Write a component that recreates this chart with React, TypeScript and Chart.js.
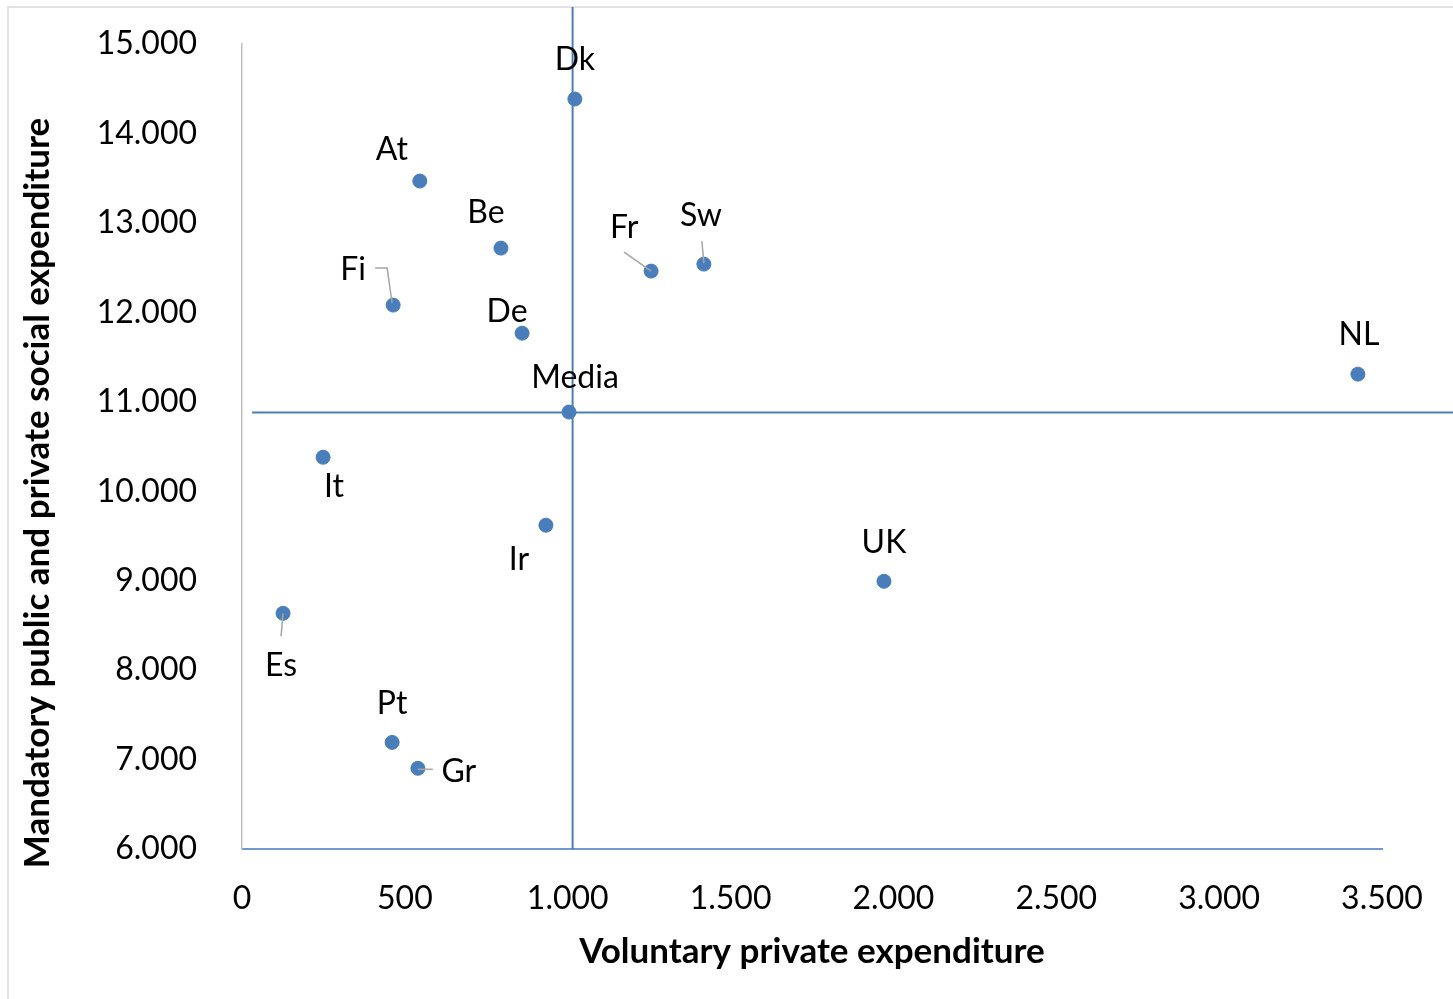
import React, { useEffect, useRef } from 'react';
import { Chart, registerables } from 'chart.js';

Chart.register(...registerables);

// Country codes and their expenditure per capita
const countries = ['Dk', 'At', 'Be', 'Fi', 'De', 'Fr', 'Sw', 'NL', 'Media', 'It', 'Ir', 'UK', 'Es', 'Pt', 'Gr'];
const voluntaryPrivate = [1022, 546, 795, 464, 860, 1256, 1418, 3426, 1004, 249, 933, 1971, 126, 461, 540];
const mandatorySocial = [14385, 13468, 12718, 12081, 11767, 12461, 12539, 11309, 10885, 10380, 9620, 8993, 8635, 7192, 6902];

// Reference lines through the average
const meanVoluntary = 1015;
const meanMandatory = 10880;
const refLineXSpan = [31, 3760];
const refLineYSpan = [6000, 15414];

const xTicks = [0, 500, 1000, 1500, 2000, 2500, 3000, 3500];
const yTicks = [6000, 7000, 8000, 9000, 10000, 11000, 12000, 13000, 14000, 15000];

const xTitle = 'Voluntary private expenditure';
const yTitle = 'Mandatory public and private social expenditure';

// Label placement around each point (pixels from the point centre)
const labelOffsets: Record<string, [number, number]> = {
  Dk: [0, -39], At: [-28, -31], Be: [-15, -35], Fi: [-40, -35], De: [-15, -21],
  Fr: [-27, -43], Sw: [-3, -48], NL: [1, -39], Media: [6, -34], It: [11, 29],
  Ir: [-27, 34], UK: [0, -39], Es: [-2, 52], Pt: [0, -39], Gr: [41, 3],
};

// Leader lines joining a displaced label to its point
const leaderLines: Record<string, [number, number][]> = {
  Fi: [[-18, -37], [-6, -37], [-1, -2]],
  Fr: [[-27, -19], [0, 0]],
  Sw: [[-2, -23], [0, -1]],
  Es: [[0, 0], [-2, 23]],
  Gr: [[0, 1], [15, 1]],
};

const FONT = 'Lato, "Open Sans", sans-serif';
const BLUE = '#4A7EBB';

const fmt = (v: number) => String(Math.round(v)).replace(/\B(?=(\d{3})+(?!\d))/g, '.');

const decorPlugin = {
  id: 'decor',
  beforeDraw(chart: any) {
    const ctx = chart.ctx;
    ctx.save();
    ctx.fillStyle = '#ffffff';
    ctx.fillRect(0, 0, chart.width, chart.height);
    ctx.strokeStyle = '#D9D9D9';
    ctx.lineWidth = 1.5;
    ctx.strokeRect(8, 7, chart.width + 20, chart.height + 20);
    ctx.restore();
  },
  afterDatasetsDraw(chart: any) {
    const ctx = chart.ctx;
    const meta = chart.getDatasetMeta(0);
    ctx.save();
    // leader lines
    ctx.strokeStyle = '#A6A6A6';
    ctx.lineWidth = 1.5;
    countries.forEach((name, i) => {
      const path = leaderLines[name];
      if (!path) return;
      const p = meta.data[i];
      ctx.beginPath();
      path.forEach(([dx, dy], k) => {
        if (k === 0) ctx.moveTo(p.x + dx, p.y + dy);
        else ctx.lineTo(p.x + dx, p.y + dy);
      });
      ctx.stroke();
    });
    // point labels
    ctx.fillStyle = '#000000';
    ctx.font = `32px ${FONT}`;
    ctx.textAlign = 'center';
    ctx.textBaseline = 'middle';
    countries.forEach((name, i) => {
      const p = meta.data[i];
      const [dx, dy] = labelOffsets[name];
      ctx.fillText(name, p.x + dx, p.y + dy);
    });
    // axis titles
    const area = chart.chartArea;
    ctx.font = `bold 35px ${FONT}`;
    ctx.textBaseline = 'alphabetic';
    ctx.fillText(xTitle, (area.left + area.right) / 2, 963);
    ctx.translate(49, 493);
    ctx.rotate(-Math.PI / 2);
    ctx.fillText(yTitle, 0, 0);
    ctx.restore();
  },
};

export default function App() {
  const canvasRef = useRef<HTMLCanvasElement | null>(null);

  useEffect(() => {
    if (!canvasRef.current) return;
    const chart = new Chart(canvasRef.current, {
      type: 'scatter',
      data: {
        datasets: [
          {
            label: 'Countries',
            data: countries.map((_, i) => ({ x: voluntaryPrivate[i], y: mandatorySocial[i] })),
            backgroundColor: BLUE,
            borderColor: BLUE,
            pointRadius: 7,
            pointBorderWidth: 1,
            order: 0,
          },
          {
            label: 'Mean voluntary',
            type: 'line',
            data: refLineYSpan.map((y) => ({ x: meanVoluntary, y })),
            borderColor: BLUE,
            borderWidth: 2,
            pointRadius: 0,
            showLine: true,
            clip: false,
            order: 1,
          } as any,
          {
            label: 'Mean mandatory',
            type: 'line',
            data: refLineXSpan.map((x) => ({ x, y: meanMandatory })),
            borderColor: BLUE,
            borderWidth: 2,
            pointRadius: 0,
            showLine: true,
            clip: false,
            order: 1,
          } as any,
        ],
      },
      options: {
        animation: false,
        responsive: false,
        devicePixelRatio: 1,
        layout: { padding: { left: 0, top: 44, right: 71, bottom: 0 } },
        plugins: { legend: { display: false }, tooltip: { enabled: false } },
        scales: {
          x: {
            type: 'linear',
            min: xTicks[0],
            max: xTicks[xTicks.length - 1],
            afterBuildTicks: (scale: any) => {
              scale.ticks = xTicks.map((v) => ({ value: v }));
            },
            afterFit: (scale: any) => {
              scale.height = 150;
              scale.paddingLeft = 0;
              scale.paddingRight = 0;
            },
            grid: { display: false, drawTicks: false },
            border: { display: true, color: '#7097CF', width: 2 },
            ticks: {
              padding: 30,
              color: '#000000',
              font: { family: FONT, size: 32 },
              maxRotation: 0,
              callback: (v: any) => fmt(Number(v)),
            },
          },
          y: {
            type: 'linear',
            min: yTicks[0],
            max: yTicks[yTicks.length - 1],
            afterBuildTicks: (scale: any) => {
              scale.ticks = yTicks.map((v) => ({ value: v }));
            },
            afterFit: (scale: any) => {
              scale.width = 242;
              scale.paddingTop = 0;
              scale.paddingBottom = 0;
            },
            grid: { display: false, drawTicks: false },
            border: { display: true, color: '#BFBFBF', width: 1.5 },
            ticks: {
              padding: 45,
              color: '#000000',
              font: { family: FONT, size: 32 },
              callback: (v: any) => fmt(Number(v)),
            },
          },
        },
      },
      plugins: [decorPlugin],
    });
    return () => chart.destroy();
  }, []);

  return (
    <div style={{ position: 'fixed', left: 0, top: 0, width: 1453, height: 999, background: '#fff' }}>
      <canvas ref={canvasRef} width={1453} height={999} />
    </div>
  );
}
